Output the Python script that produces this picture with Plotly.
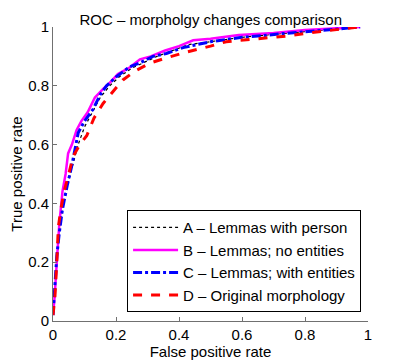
import plotly.graph_objects as go

# ROC curves
fpr_a = [0, 0.005, 0.012, 0.02, 0.03, 0.045, 0.06, 0.08, 0.1, 0.13, 0.15, 0.18, 0.21, 0.25, 0.29, 0.33, 0.38, 0.43, 0.5, 0.6, 0.7, 0.8, 0.9, 0.975]
tpr_a = [0.02, 0.1, 0.22, 0.3, 0.38, 0.46, 0.52, 0.6, 0.66, 0.72, 0.76, 0.8, 0.83, 0.86, 0.88, 0.9, 0.92, 0.94, 0.95, 0.965, 0.975, 0.985, 0.993, 1.0]

fpr_b = [0, 0.005, 0.012, 0.02, 0.03, 0.04, 0.048, 0.06, 0.075, 0.09, 0.11, 0.133, 0.16, 0.18, 0.206, 0.24, 0.276, 0.31, 0.356, 0.4, 0.445, 0.5, 0.59, 0.7, 0.8, 0.9, 0.975]
tpr_b = [0.02, 0.08, 0.2, 0.33, 0.44, 0.5, 0.57, 0.6, 0.65, 0.68, 0.71, 0.76, 0.79, 0.81, 0.84, 0.86, 0.89, 0.9, 0.92, 0.935, 0.955, 0.96, 0.973, 0.98, 0.99, 0.995, 1.0]

fpr_c = [0, 0.005, 0.012, 0.02, 0.03, 0.045, 0.059, 0.08, 0.1, 0.127, 0.15, 0.17, 0.2, 0.244, 0.28, 0.317, 0.36, 0.413, 0.5, 0.6, 0.7, 0.8, 0.9, 0.975]
tpr_c = [0.02, 0.1, 0.22, 0.3, 0.38, 0.46, 0.525, 0.64, 0.68, 0.72, 0.77, 0.8, 0.83, 0.865, 0.88, 0.9, 0.91, 0.93, 0.95, 0.965, 0.975, 0.985, 0.993, 1.0]

fpr_d = [0, 0.006, 0.012, 0.017, 0.025, 0.035, 0.05, 0.064, 0.085, 0.107, 0.13, 0.159, 0.19, 0.222, 0.26, 0.308, 0.36, 0.425, 0.5, 0.55, 0.65, 0.75, 0.85, 0.95, 0.975]
tpr_d = [0.02, 0.08, 0.2, 0.32, 0.38, 0.44, 0.5, 0.56, 0.6, 0.63, 0.69, 0.74, 0.78, 0.82, 0.85, 0.877, 0.895, 0.915, 0.935, 0.95, 0.96, 0.97, 0.985, 0.995, 1.0]

series = [
    ("A \u2013 Lemmas with person", fpr_a, tpr_a, "black", 1.2, "dot"),
    ("B \u2013 Lemmas; no entities", fpr_b, tpr_b, "#ff00ff", 2.5, "solid"),
    ("C \u2013 Lemmas; with entities", fpr_c, tpr_c, "#0000ff", 3, "dashdot"),
    ("D \u2013 Original morphology", fpr_d, tpr_d, "#ff0000", 3, "dash"),
]

fig = go.Figure()
for name, x, y, color, width, dash in series:
    fig.add_trace(go.Scatter(x=x, y=y, mode="lines", name=name,
                             line=dict(color=color, width=width, dash=dash)))

FONT = "Liberation Sans, Arial, sans-serif"
ticks = [0, 0.2, 0.4, 0.6, 0.8, 1]
axis_style = dict(
    range=[0, 1], tickvals=ticks, ticktext=["0", "0.2", "0.4", "0.6", "0.8", "1"],
    showline=True, linecolor="#707070", linewidth=1, ticks="inside", ticklen=4,
    tickcolor="#707070", showgrid=False, zeroline=False, mirror=False,
    tickfont=dict(size=15, color="black"), automargin=False,
)

# page body has an 8px margin, so the figure is a bit smaller than the window
fig.update_layout(
    width=399, height=353,
    margin=dict(l=45, r=39, t=19, b=40),
    paper_bgcolor="white", plot_bgcolor="white",
    font=dict(family=FONT, size=15, color="black"),
    title=dict(text="ROC \u2013 morpholgy changes comparison", x=0.508, xanchor="center",
               y=0.982, yanchor="top", pad=dict(t=0, b=0), font=dict(size=15)),
    legend=dict(x=0.978, y=0.03, xanchor="right", yanchor="bottom",
                bgcolor="white", bordercolor="black", borderwidth=1,
                font=dict(size=15), tracegroupgap=0, itemwidth=45),
    xaxis=dict(title=dict(text="False positive rate", standoff=1, font=dict(size=15)), **axis_style),
    yaxis=dict(title=dict(text="True positive rate", standoff=14, font=dict(size=15)), **axis_style),
)

fig.write_html("out.html")
